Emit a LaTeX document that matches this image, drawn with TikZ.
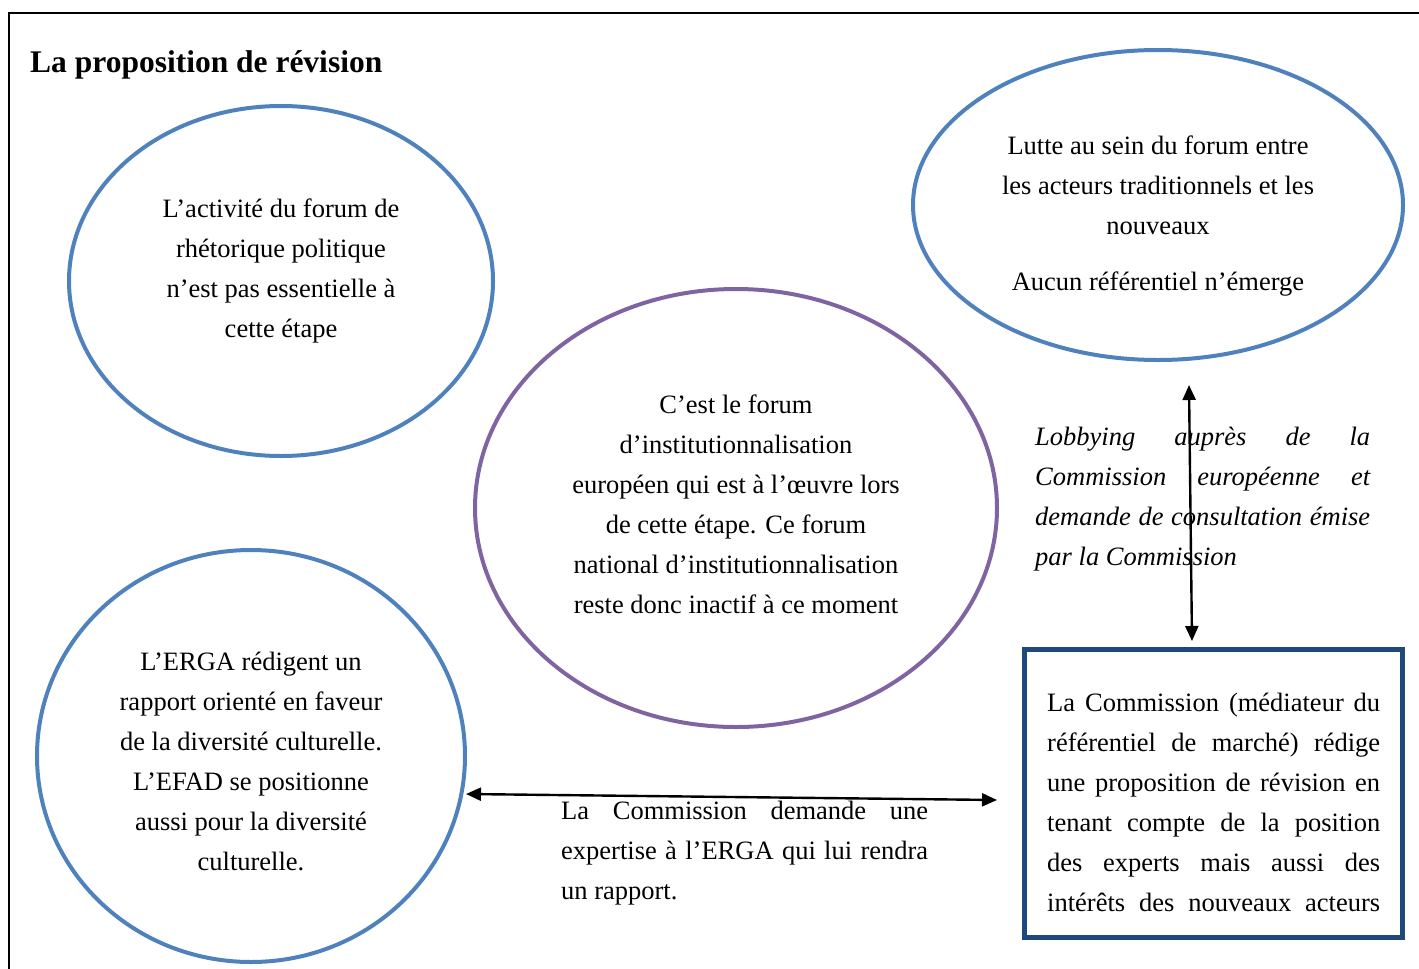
\documentclass[tikz,border=0pt]{standalone}
\usepackage{fontspec}
\setmainfont{Liberation Serif}
\usetikzlibrary{arrows.meta,shapes.geometric}
\definecolor{ringblue}{HTML}{4F81BD}
\definecolor{ringpurple}{HTML}{8064A2}
\definecolor{boxblue}{HTML}{1F497D}
\tikzset{
  ring/.style={ellipse, draw=ringblue, line width=4pt, inner sep=0pt},
  body/.style={font=\fontsize{26.5}{40}\selectfont, inner sep=0pt, align=center},
  sidetext/.style={font=\fontsize{26.5}{40}\selectfont, inner sep=0pt, align=left, anchor=north west},
  link/.style={line width=2.4pt, {Triangle[length=15pt,width=13pt]}-{Triangle[length=15pt,width=13pt]}},
}
\newcommand{\fullline}[2]{\makebox[#1][s]{#2}}
\begin{document}
\begin{tikzpicture}[x=1pt,y=-1pt]
  \useasboundingbox (0,0) rectangle (1419,969);
  % open frame: left and top edges
  \draw[line width=2pt] (9,969) -- (9,13) -- (1419,13);
  \node[anchor=base west, inner sep=0pt, font=\fontsize{31.5}{38}\selectfont\bfseries] (title) at (30,72) {La proposition de révision};

  % ellipses
  \node[ring, minimum width=424pt, minimum height=350pt] (e1) at (281,281) {};
  \node[ring, minimum width=490pt, minimum height=310pt] (e2) at (1158,205) {};
  \node[ring, draw=ringpurple, minimum width=522pt, minimum height=438pt] (e3) at (736,508) {};
  \node[ring, minimum width=428pt, minimum height=412pt] (e4) at (251,756) {};
  \node[draw=boxblue, line width=5pt, minimum width=378pt, minimum height=288pt, inner sep=0pt] (box) at (1213.5,793.5) {};

  % texts inside the shapes
  \node[body] (t1) at (281,271) {L’activité du forum de\\rhétorique politique\\n’est pas essentielle à\\cette étape};
  \node[body] (t2) at (1158,216) {Lutte au sein du forum entre\\les acteurs traditionnels et les\\nouveaux\\[16pt]Aucun référentiel n’émerge};
  \node[body] (t3) at (736,504) {C’est le forum\\d’institutionnalisation\\européen qui est à l’œuvre lors\\de cette étape. Ce forum\\national d’institutionnalisation\\reste donc inactif à ce moment};
  \node[body] (t4) at (251,761) {L’ERGA rédigent un\\rapport orienté en faveur\\de la diversité culturelle.\\L’EFAD se positionne\\aussi pour la diversité\\culturelle.};
  \node[sidetext] (t5) at (1047,693) {\fullline{333pt}{La Commission (médiateur du}\\
    \fullline{333pt}{référentiel de marché) rédige}\\
    \fullline{333pt}{une proposition de révision en}\\
    \fullline{333pt}{tenant compte de la position}\\
    \fullline{333pt}{des experts mais aussi des}\\
    \fullline{333pt}{intérêts des nouveaux acteurs}};

  % connectors and their labels
  \coordinate (vtop) at (1189,385);
  \coordinate (vbot) at (1192,641);
  \coordinate (hleft) at (466,794);
  \coordinate (hright) at (997,800);
  \node[sidetext, font=\fontsize{26.5}{40}\selectfont\itshape] (t6) at (1035,427) {\fullline{335pt}{Lobbying auprès de la}\\
    \fullline{335pt}{Commission européenne et}\\
    \fullline{335pt}{demande de consultation émise}\\
    par la Commission};
  \node[sidetext] (t7) at (561,801) {\fullline{367pt}{La Commission demande une}\\
    \fullline{367pt}{expertise à l’ERGA qui lui rendra}\\
    un rapport.};
  \draw[link] (vtop) -- (vbot);
  \draw[link] (hleft) -- (hright);
\end{tikzpicture}
\end{document}
